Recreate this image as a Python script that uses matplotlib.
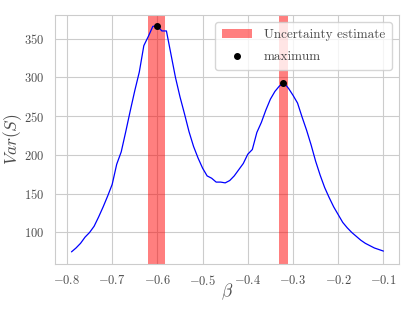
import numpy as np
import matplotlib
matplotlib.use('Agg')
import matplotlib.pyplot as plt
import seaborn as sns

# 数据
beta = np.round(np.arange(-0.79, -0.095, 0.01), 2)
var_s = [75, 80, 86, 94, 100, 108, 120, 133, 147, 162,
         188, 204, 230, 257, 283, 307, 341, 353, 366, 366,
         360, 360, 330, 300, 275, 253, 230, 211, 196, 183,
         173, 170, 165, 165, 164, 167, 173, 181, 189, 201,
         207, 229, 242, 258, 272, 282, 289, 293, 286, 277,
         267, 249, 232, 213, 192, 174, 158, 145, 133, 123,
         113, 106, 100, 95, 90, 86, 83, 80, 78, 76]
spans = [(-0.62, -0.584), (-0.332, -0.312)]
max_x = [-0.60, -0.322]
max_y = [366, 293]

sns.set_style('whitegrid')
plt.rcParams['font.family'] = 'serif'
plt.rcParams['font.serif'] = ['cmr10']
plt.rcParams['mathtext.fontset'] = 'cm'
plt.rcParams['axes.formatter.use_mathtext'] = True

fig = plt.figure(figsize=(4.15, 3.12), dpi=100)
ax = fig.add_axes([0.1325, 0.154, 0.829, 0.798])

for i, (a, b) in enumerate(spans):
    ax.axvspan(a, b, color='red', alpha=0.5, lw=0,
               label='Uncertainty estimate' if i == 0 else None)
ax.plot(beta, var_s, color='blue', lw=0.9)
ax.plot(max_x, max_y, 'o', color='black', markersize=4, label='maximum')

ax.set_xlim(-0.8265, -0.0655)
ax.set_ylim(59.4, 380.6)
ax.set_xticks([-0.8, -0.7, -0.6, -0.5, -0.4, -0.3, -0.2, -0.1])
ax.tick_params(labelsize=9, colors='0.3', pad=4)
ax.set_xlabel(r'$\beta$', fontsize=12.5, color='0.3')
ax.set_ylabel(r'$Var(S)$', fontsize=12.5, color='0.3')
ax.xaxis.set_label_coords(0.5, -0.072)
ax.yaxis.set_label_coords(-0.09, 0.5)

leg = ax.legend(loc='upper right', fontsize=9.5, frameon=True,
                handlelength=2.3, handletextpad=0.9, labelspacing=0.75,
                borderpad=0.5, borderaxespad=0.55)
for t in leg.get_texts():
    t.set_color('0.3')

fig.savefig('out.png', dpi=100)
